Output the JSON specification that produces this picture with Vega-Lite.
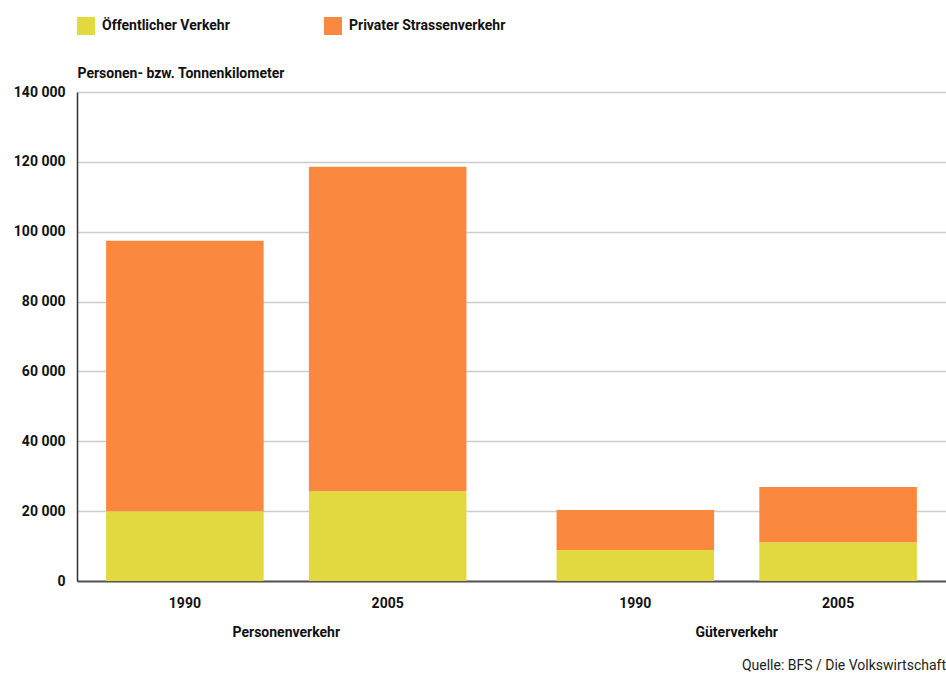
{
  "$schema": "https://vega.github.io/schema/vega-lite/v6.json",
  "width": 869,
  "height": 489,
  "autosize": {"type": "none"},
  "padding": {"left": 77, "top": 92, "right": 0, "bottom": 92},
  "background": "white",
  "config": {
    "font": "Roboto",
    "view": {"stroke": null}
  },
  "title": {
    "text": "Quelle: BFS / Die Volkswirtschaft",
    "orient": "bottom",
    "anchor": "end",
    "offset": 20,
    "font": "Roboto",
    "fontSize": 14,
    "fontWeight": "normal",
    "color": "#222"
  },
  "data": {
    "values": [
      {"gruppe": "Personenverkehr", "jahr": "1990", "kategorie": "Öffentlicher Verkehr", "ord": 1, "wert": 20000},
      {"gruppe": "Personenverkehr", "jahr": "1990", "kategorie": "Privater Strassenverkehr", "ord": 2, "wert": 77400},
      {"gruppe": "Personenverkehr", "jahr": "2005", "kategorie": "Öffentlicher Verkehr", "ord": 1, "wert": 25700},
      {"gruppe": "Personenverkehr", "jahr": "2005", "kategorie": "Privater Strassenverkehr", "ord": 2, "wert": 92900},
      {"gruppe": "Güterverkehr", "jahr": "1990", "kategorie": "Öffentlicher Verkehr", "ord": 1, "wert": 8900},
      {"gruppe": "Güterverkehr", "jahr": "1990", "kategorie": "Privater Strassenverkehr", "ord": 2, "wert": 11400},
      {"gruppe": "Güterverkehr", "jahr": "2005", "kategorie": "Öffentlicher Verkehr", "ord": 1, "wert": 11100},
      {"gruppe": "Güterverkehr", "jahr": "2005", "kategorie": "Privater Strassenverkehr", "ord": 2, "wert": 15800}
    ]
  },
  "encoding": {
    "x": {
      "field": "gruppe",
      "type": "nominal",
      "sort": ["Personenverkehr", "Güterverkehr"],
      "scale": {"paddingInner": 0.2, "paddingOuter": 0.0646},
      "axis": {
        "title": null,
        "labelAngle": 0,
        "ticks": false,
        "labelPadding": 44,
        "labelFont": "Roboto",
        "labelFontSize": 14,
        "labelFontWeight": "bold",
        "labelColor": "#111",
        "domainColor": "#555",
        "domainWidth": 2,
        "grid": false
      }
    },
    "xOffset": {
      "field": "jahr",
      "type": "nominal",
      "sort": ["1990", "2005"],
      "scale": {"paddingInner": 0.223, "paddingOuter": 0}
    }
  },
  "layer": [
    {
      "mark": {"type": "bar"},
      "encoding": {
        "y": {
          "field": "wert",
          "type": "quantitative",
          "aggregate": "sum",
          "stack": "zero",
          "scale": {"domain": [0, 140000], "nice": false},
          "axis": {
            "title": "Personen- bzw. Tonnenkilometer",
            "titleAngle": 0,
            "titleAlign": "left",
            "titleBaseline": "alphabetic",
            "titleX": 0,
            "titleY": -15,
            "titleFont": "Roboto",
            "titleFontSize": 14,
            "titleFontWeight": "bold",
            "titleColor": "#111",
            "values": [0, 20000, 40000, 60000, 80000, 100000, 120000, 140000],
            "labelExpr": "replace(format(datum.value, ','), ',', ' ')",
            "ticks": false,
            "labelPadding": 12,
            "labelFont": "Roboto",
            "labelFontSize": 14,
            "labelFontWeight": "bold",
            "labelColor": "#111",
            "domainColor": "#333",
            "domainWidth": 1.5,
            "gridColor": "#cccccc",
            "gridWidth": 1.5
          }
        },
        "color": {
          "field": "kategorie",
          "type": "nominal",
          "scale": {
            "domain": ["Öffentlicher Verkehr", "Privater Strassenverkehr"],
            "range": ["#E2D840", "#FA883E"]
          },
          "legend": {
            "title": null,
            "orient": "none",
            "legendX": 0,
            "legendY": -75,
            "direction": "horizontal",
            "symbolType": "square",
            "symbolSize": 324,
            "symbolStrokeWidth": 0,
            "labelFont": "Roboto",
            "labelFontSize": 14,
            "labelFontWeight": "bold",
            "labelColor": "#111",
            "labelOffset": 7,
            "columnPadding": 94
          }
        },
        "order": {"field": "ord", "type": "quantitative"}
      }
    },
    {
      "transform": [{"filter": "datum.ord == 1"}],
      "mark": {
        "type": "text",
        "baseline": "middle",
        "dy": 23,
        "font": "Roboto",
        "fontSize": 14,
        "fontWeight": "bold",
        "color": "#111"
      },
      "encoding": {
        "y": {"datum": 0, "type": "quantitative"},
        "text": {"field": "jahr"}
      }
    }
  ]
}
